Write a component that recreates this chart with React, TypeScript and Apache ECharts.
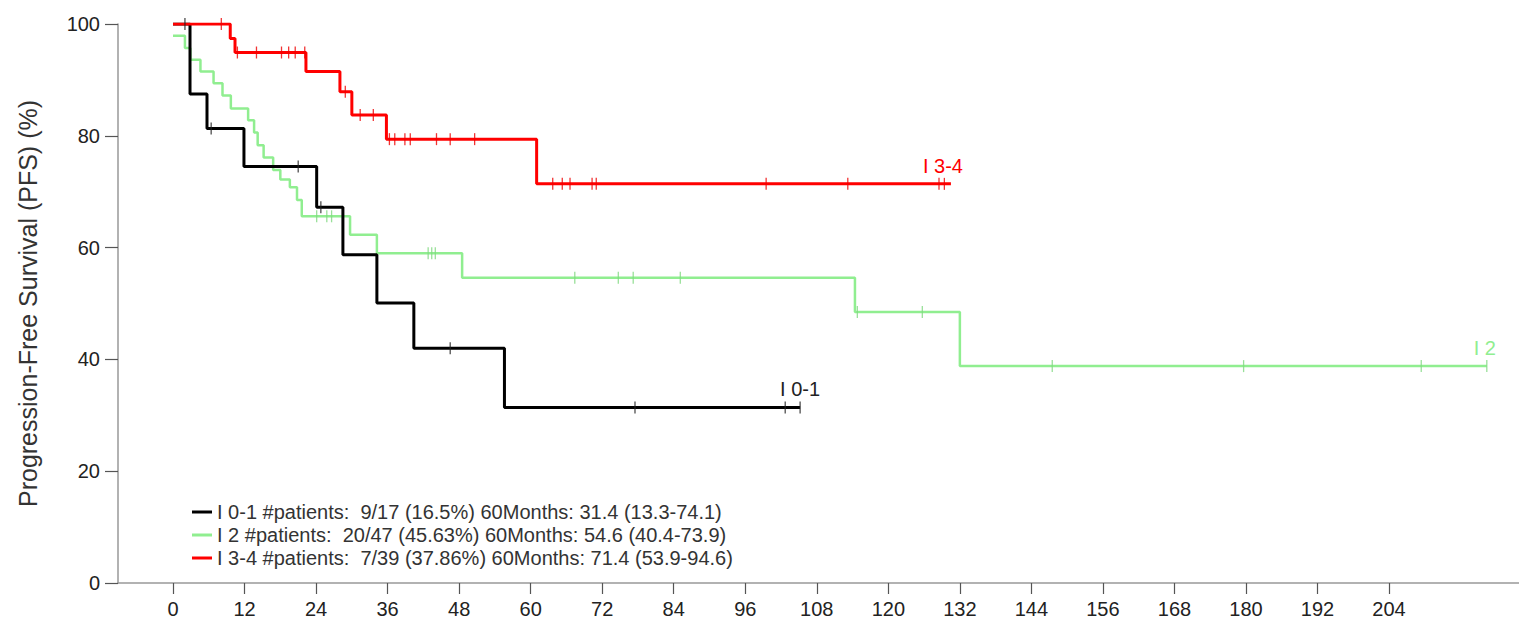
import React, { useEffect, useRef } from "react";
import * as echarts from "echarts";

const xTicks = [0, 12, 24, 36, 48, 60, 72, 84, 96, 108, 120, 132, 144, 156, 168, 180, 192, 204];
const yTicks = [0, 20, 40, 60, 80, 100];

const seriesNames = [
  "I 0-1 #patients:  9/17 (16.5%) 60Months: 31.4 (13.3-74.1)",
  "I 2 #patients:  20/47 (45.63%) 60Months: 54.6 (40.4-73.9)",
  "I 3-4 #patients:  7/39 (37.86%) 60Months: 71.4 (53.9-94.6)",
];
const curveLabels = ["I 0-1", "I 2", "I 3-4"];
const colors = ["#000000", "#90EE90", "#FF0000"];
const tickColors = ["#222222", "#7fd87f", "#EE0000"];

const blackTimes = [0, 2.85, 5.7, 11.9, 24.1, 28.5, 34.2, 40.4, 55.6, 105.2];
const blackValues = [100, 87.5, 81.3, 74.5, 67.2, 58.7, 50.1, 42.0, 31.4, 31.4];
const blackCensor = [2.0, 6.4, 21.0, 24.8, 46.5, 77.5, 102.7, 105.2];

const greenTimes = [0, 2.0, 2.9, 4.6, 6.8, 8.3, 9.7, 12.6, 13.6, 14.2, 15.2, 16.8, 18.0, 19.6, 20.8, 21.6, 29.7, 34.2, 48.5, 114.4, 132.0, 220.4];
const greenValues = [97.9, 95.7, 93.6, 91.5, 89.4, 87.2, 84.9, 82.8, 80.6, 78.3, 76.1, 73.9, 72.2, 70.8, 68.5, 65.6, 62.3, 59.0, 54.6, 48.5, 38.8, 38.8];
const greenCensor = [24.1, 25.8, 26.6, 42.8, 43.4, 44.0, 67.4, 74.7, 77.2, 85.1, 114.8, 125.7, 147.5, 179.6, 209.4, 220.4];

const redTimes = [0, 9.6, 10.4, 22.3, 28.0, 30.0, 35.8, 61.0, 130.5];
const redValues = [100, 97.4, 94.9, 91.5, 87.9, 83.7, 79.4, 71.4, 71.4];
const redCensor = [8.1, 10.8, 14.0, 18.2, 19.4, 20.5, 22.1, 28.9, 31.4, 33.6, 36.3, 37.2, 38.9, 39.8, 44.2, 46.5, 50.6, 63.7, 65.3, 66.6, 70.3, 71.0, 99.5, 113.2, 128.5, 129.4];

const FONT = "'Liberation Sans', Arial, sans-serif";

function stepValueAt(times: number[], values: number[], t: number): number {
  let v = values[0];
  for (let i = 0; i < times.length; i++) {
    if (times[i] <= t) v = values[i];
  }
  return v;
}

export default function App() {
  const ref = useRef<HTMLDivElement>(null);
  useEffect(() => {
    if (!ref.current) return;
    const chart = echarts.init(ref.current, null, { renderer: "svg" });
    const groups = [
      { t: blackTimes, v: blackValues, c: blackCensor },
      { t: greenTimes, v: greenValues, c: greenCensor },
      { t: redTimes, v: redValues, c: redCensor },
    ];
    const labelOffsets = [[0, 0], [-2, 0], [-8, 0]];
    const lineWidths = [3, 2.5, 3];
    const order = [1, 0, 2];
    const series: any[] = [];
    order.forEach((i) => {
      const g = groups[i];
      const last = g.t.length - 1;
      series.push({
        name: seriesNames[i],
        type: "line",
        step: "end",
        symbol: "none",
        data: g.t.map((t, k) => [t, g.v[k]]),
        lineStyle: { color: colors[i], width: lineWidths[i] },
        itemStyle: { color: colors[i] },
        z: 2 + order.indexOf(i),
        markPoint: {
          symbol: "circle",
          symbolSize: 0,
          data: [
            {
              coord: [g.t[last], g.v[last]],
              label: { offset: labelOffsets[i] },
            },
          ],
          label: {
            show: true,
            position: "top",
            distance: 8,
            formatter: curveLabels[i],
            color: colors[i] === "#000000" ? "#222" : colors[i],
            fontSize: 20,
            fontFamily: FONT,
          },
        },
      });
      series.push({
        name: seriesNames[i] + " censor",
        type: "scatter",
        symbol: "rect",
        symbolSize: [1.3, 12],
        data: g.c.map((t) => [t, stepValueAt(g.t, g.v, t)]),
        itemStyle: { color: tickColors[i] },
        z: 5 + order.indexOf(i),
        silent: true,
      });
    });

    chart.setOption({
      animation: false,
      backgroundColor: "#ffffff",
      grid: { left: 118, right: 0, top: 24, bottom: 54, containLabel: false },
      legend: {
        data: seriesNames.map((n, i) => ({ name: n, itemStyle: { color: colors[i] } })),
        orient: "vertical",
        left: 187,
        top: 497,
        icon: "rect",
        itemWidth: 20,
        itemHeight: 3,
        itemGap: 3,
        textStyle: { fontSize: 20, fontFamily: FONT, color: "#333", lineHeight: 20 },
        selectedMode: false,
      },
      xAxis: {
        type: "value",
        min: -9.23,
        max: 225.8,
        splitLine: { show: false },
        axisLine: { show: true, onZero: false, lineStyle: { color: "#999", width: 1.5 } },
        axisTick: {
          show: true,
          customValues: xTicks,
          length: 11,
          lineStyle: { color: "#555", width: 1.2 },
        },
        axisLabel: {
          customValues: xTicks,
          fontSize: 20,
          fontFamily: FONT,
          color: "#222",
          margin: 16,
        },
      },
      yAxis: {
        type: "value",
        min: 0,
        max: 100,
        splitLine: { show: false },
        name: "Progression-Free Survival (PFS) (%)",
        nameLocation: "middle",
        nameRotate: 90,
        nameGap: 78,
        nameTextStyle: { fontSize: 25, fontFamily: FONT, color: "#333" },
        axisLine: { show: true, onZero: false, lineStyle: { color: "#999", width: 1.5 } },
        axisTick: {
          show: true,
          customValues: yTicks,
          length: 13,
          lineStyle: { color: "#555", width: 1.2 },
        },
        axisLabel: {
          customValues: yTicks,
          fontSize: 20,
          fontFamily: FONT,
          color: "#222",
          margin: 18,
        },
      },
      series,
    });
    return () => chart.dispose();
  }, []);
  return (
    <div
      ref={ref}
      style={{ position: "fixed", left: 0, top: 0, width: 1519, height: 637, background: "#fff" }}
    />
  );
}
